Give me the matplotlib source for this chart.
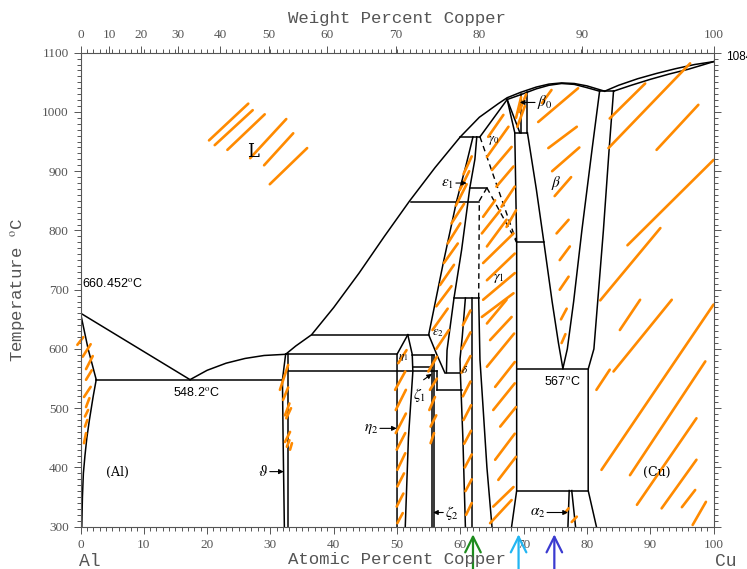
import numpy as np
import matplotlib.pyplot as plt
from matplotlib.transforms import blended_transform_factory

plt.rcParams['mathtext.fontset'] = 'stix'

# phase boundaries: (atomic % Cu, temperature in C)
liq_al = [(0, 660.452), (17.3, 548.2)]
liq_theta = [(17.3, 548.2), (20, 564), (23, 576), (26, 584), (29, 589), (32.4, 591)]
liq_main = [(32.4, 591), (34, 605), (36.5, 624), (40, 670), (44, 728), (48, 790), (52, 850),
            (56, 906), (60, 958), (63, 991), (66, 1014), (67.4, 1024), (69.5, 1033), (72, 1042),
            (74, 1047), (76, 1049), (78, 1048), (80, 1044), (82.8, 1035)]
liq_cu = [(82.8, 1035), (85, 1045), (88, 1056), (91, 1065), (94, 1073), (97, 1080), (100, 1084.87)]
sol_cu = [(84.2, 1035), (87, 1045), (90, 1055), (93, 1064), (96, 1072), (98.5, 1080), (100, 1084.87)]
sol_beta = [(67.4, 1021), (69.5, 1029), (72, 1039), (74, 1045), (76, 1048), (78, 1046.5),
            (80, 1041), (82.0, 1035)]
h1035 = [(82.0, 1035), (84.2, 1035)]
al_sol = [(0, 660.452), (1.2, 600), (2.48, 548.2)]
al_solvus = [(2.48, 548.2), (2.0, 520), (1.4, 480), (1.0, 450), (0.7, 420), (0.45, 390),
             (0.3, 350), (0.2, 300)]
h548 = [(2.48, 548.2), (31.9, 548.2)]
theta_left = [(32.4, 591), (31.9, 548.2), (32.0, 450), (32.2, 300)]
theta_right = [(32.8, 591), (32.8, 300)]
h591 = [(32.4, 591), (50.0, 591)]
h562 = [(32.8, 562), (56.3, 562)]
h624 = [(36.5, 624), (55.0, 624)]
eta_left = [(51.7, 624), (50.0, 591), (50.0, 300)]
eta_right = [(51.7, 624), (52.4, 591), (52.5, 562), (51.8, 450), (51.3, 300)]
zeta_top = [(52.4, 590), (55.85, 590)]
zeta_mid = [(52.5, 569), (55.45, 569)]
zeta_left = [(55.45, 590), (55.45, 300)]
zeta_right = [(55.85, 590), (55.85, 300)]
eps_left = [(57.5, 561), (56.3, 590), (55.0, 624), (57.3, 745), (59.4, 849), (60.9, 910), (62.0, 958)]
eps_right = [(57.8, 560), (57.9, 598), (59.0, 686), (60.2, 767), (61.5, 872), (62.3, 920), (62.6, 958)]
h958 = [(60.0, 958), (63.1, 958)]
h872 = [(61.5, 872), (64.2, 872)]
h848 = [(52.2, 848), (62.9, 848)]
h686 = [(59.0, 686), (62.9, 686)]
h560 = [(57.5, 560), (60.0, 560)]
h530 = [(56.3, 530), (60.2, 530)]
box_left = [(56.3, 562), (56.3, 530)]
delta_left = [(60.8, 686), (60.3, 620), (59.95, 583), (60.0, 560), (60.4, 450), (60.8, 300)]
delta_right = [(61.9, 686), (61.9, 300)]
gamma1_left = [(62.9, 686), (63.1, 582), (63.6, 500), (64.2, 400), (65.0, 300)]
gamma0_sol = [(63.1, 958), (67.4, 1021)]
gamma_right = [(67.4, 1021), (68.6, 965), (68.9, 780), (68.9, 361), (68.1, 300)]
beta0_leg = [(67.4, 1021), (69.4, 965)]
beta0_v1 = [(69.6, 1030), (69.6, 965)]
beta0_v2 = [(70.6, 1034), (70.6, 965)]
h965 = [(68.6, 965), (70.6, 965)]
beta_left = [(70.6, 965), (72.0, 870), (73.2, 780), (74.5, 680), (75.5, 610), (76.2, 567)]
beta_right = [(82.0, 1035), (80.8, 936), (79.2, 800), (77.9, 680), (76.9, 600), (76.2, 567)]
h780 = [(68.9, 780), (73.2, 780)]
cu_left = [(84.2, 1035), (83.5, 936), (82.6, 800), (81.7, 680), (81.1, 600), (80.2, 566),
           (80.2, 361), (81.5, 300)]
h567 = [(68.9, 567), (80.2, 567)]
h361 = [(68.9, 361), (80.2, 361)]
alpha2_left = [(77.2, 361), (77.0, 300)]
alpha2_right = [(77.6, 361), (78.2, 300)]

solid_lines = [liq_al, liq_theta, liq_main, liq_cu, sol_cu, sol_beta, h1035, al_sol, al_solvus,
               h548, theta_left, theta_right, h591, h562, h624, eta_left, eta_right, zeta_top,
               zeta_mid, zeta_left, zeta_right, eps_left, eps_right, h958, h872, h848, h686,
               h560, h530, box_left, delta_left, delta_right, gamma1_left, gamma0_sol,
               gamma_right, beta0_leg, beta0_v1, beta0_v2, h965, beta_left, beta_right, h780,
               cu_left, h567, h361, alpha2_left, alpha2_right]

dash_a = [(64.2, 872), (63.0, 850), (62.9, 686)]
dash_b = [(63.1, 958), (68.9, 780)]
dash_c = [(64.2, 872), (68.9, 780)]
dashed_lines = [dash_a, dash_b, dash_c]

# hand drawn orange marks: (x1, T1, x2, T2)
orange_strokes = [
    # L
    (20.3, 952, 26.5, 1014), (21.2, 944, 27.2, 1003), (23.2, 936, 29.1, 996),
    (26.8, 922, 32.5, 988), (29.0, 910, 33.6, 964), (29.9, 878, 35.8, 939),
    # (Al)
    (-0.5, 607, 0.44, 620), (0.35, 587, 1.6, 608), (0.87, 566, 1.93, 588),
    (0.87, 548, 1.77, 564), (0.55, 519, 1.6, 536), (0.87, 502, 1.4, 517),
    (0.7, 486, 1.2, 497), (0.7, 469, 1.07, 480), (0.55, 441, 0.87, 458),
    # theta
    (31.5, 531, 32.8, 573), (32.0, 514, 32.8, 535), (32.3, 488, 33.0, 508),
    (32.5, 483, 33.25, 500), (32.6, 435, 33.0, 446), (32.3, 443, 33.1, 460),
    (33.1, 430, 33.4, 441),
    # eta
    (50.2, 576, 51.5, 598), (49.7, 531, 51.3, 562), (49.8, 497, 51.4, 531),
    (49.8, 458, 51.4, 491), (49.95, 430, 51.3, 458), (50.05, 396, 51.3, 424),
    (50.05, 368, 51.1, 390), (49.95, 334, 51.0, 356), (50.05, 306, 50.9, 323),
    # zeta
    (54.95, 562, 56.3, 587), (55.2, 531, 56.3, 550), (55.1, 497, 56.0, 519),
    (55.3, 469, 56.2, 488), (55.3, 441, 55.85, 458),
    # epsilon
    (56.2, 600, 58.2, 632), (55.6, 632, 58.0, 668), (56.2, 672, 58.6, 706),
    (56.8, 708, 59.0, 742), (57.4, 745, 59.6, 778), (58.0, 778, 60.0, 812),
    (58.6, 812, 60.6, 845), (59.3, 842, 61.0, 878), (59.9, 868, 61.4, 900),
    (60.5, 895, 61.8, 925),
    # delta
    (60.4, 640, 61.6, 665), (60.2, 600, 61.6, 628), (60.2, 560, 61.6, 588),
    (60.4, 520, 61.6, 545), (60.5, 480, 61.7, 505), (60.6, 440, 61.7, 462),
    (60.7, 400, 61.8, 422), (60.8, 360, 61.8, 380), (60.9, 320, 61.8, 340),
    # gamma0
    (64.4, 958, 66.8, 995), (64.2, 924, 67.6, 975), (65.0, 902, 68.1, 941),
    (65.7, 874, 68.4, 908), (66.5, 840, 68.6, 874), (67.3, 806, 68.8, 834),
    # gamma1
    (63.6, 823, 65.5, 851), (63.4, 795, 66.3, 834), (64.2, 773, 67.3, 818),
    (63.6, 745, 68.4, 795), (64.2, 716, 68.6, 761), (63.6, 683, 68.6, 728),
    (63.4, 654, 68.4, 694), (64.2, 643, 67.3, 683), (64.7, 615, 68.1, 654),
    (64.2, 570, 68.5, 626), (65.5, 536, 68.6, 578), (65.2, 497, 68.6, 542),
    (66.3, 469, 68.8, 502), (65.5, 413, 68.6, 457), (66.0, 379, 68.8, 418),
    (65.2, 334, 68.4, 367), (64.7, 306, 68.1, 345),
    # beta0
    (68.8, 990, 69.6, 1025), (69.0, 975, 70.2, 1010), (69.3, 1000, 70.4, 1030),
    # beta
    (72.3, 983, 78.6, 1040), (72.9, 1015, 74.4, 1037), (73.9, 939, 78.4, 975),
    (74.5, 900, 78.8, 940), (74.9, 858, 77.5, 890), (75.2, 795, 77.1, 818),
    (75.7, 750, 77.3, 773), (75.7, 700, 77.1, 722), (75.9, 650, 76.8, 668),
    (76.0, 610, 76.6, 625),
    # alpha2
    (76.5, 323, 77.1, 331), (77.6, 308, 78.4, 317),
    # (Cu)
    (83.6, 989, 89.2, 1048), (83.4, 939, 96.3, 1082), (91.0, 936, 97.6, 1012),
    (86.4, 775, 100.0, 919), (82.1, 682, 91.6, 804),
    (85.2, 632, 88.4, 683), (81.5, 531, 83.6, 565), (84.2, 562, 93.4, 683),
    (82.3, 396, 100.0, 675), (86.8, 387, 98.7, 579), (87.9, 337, 97.3, 483),
    (91.8, 331, 97.3, 413), (95.0, 333, 97.1, 362), (96.7, 303, 98.8, 342),
]

wt_ticks = [0, 10, 20, 30, 40, 50, 60, 70, 80, 90, 100]
marker_arrows = [(62.0, '#1e8c1e'), (69.2, '#22b5f2'), (74.85, '#3b3bd0')]


def wt_to_at(w):
    a = w / 63.546
    b = (100 - w) / 26.982
    return 100 * a / (a + b)


fig = plt.figure(figsize=(7.47, 5.69), dpi=100)
ax = fig.add_axes([0.1078, 0.0743, 0.8474, 0.8331])
ax.set_xlim(0, 100)
ax.set_ylim(300, 1100)

for pts in solid_lines:
    xs, ys = zip(*pts)
    ax.plot(xs, ys, color='k', lw=1.1)
for pts in dashed_lines:
    xs, ys = zip(*pts)
    ax.plot(xs, ys, color='k', lw=1.0, ls=(0, (4, 3)))
for x1, t1, x2, t2 in orange_strokes:
    ax.plot([x1, x2], [t1, t2], color='#ff8a00', lw=1.9, solid_capstyle='round', clip_on=False)

grey = '#555555'
tick_font = dict(family='Liberation Serif', size=9.5)
for s in ax.spines.values():
    s.set_color(grey)
    s.set_linewidth(0.8)
ax.set_xticks(range(0, 101, 10))
ax.set_xticks(range(0, 101), minor=True)
ax.set_yticks(range(300, 1101, 100))
ax.set_yticks(range(300, 1101, 10), minor=True)
ax.tick_params(which='both', direction='out', color=grey, labelcolor=grey, right=True, width=0.7)
ax.tick_params(which='major', length=5)
ax.tick_params(which='minor', length=3)
for lab in ax.get_xticklabels() + ax.get_yticklabels():
    lab.set_fontfamily('Liberation Serif')
    lab.set_fontsize(9.5)

ax2 = ax.twiny()
ax2.set_xlim(0, 100)
ax2.set_xticks([wt_to_at(w) for w in wt_ticks])
ax2.set_xticklabels([str(w) for w in wt_ticks], **tick_font, color=grey)
ax2.set_xticks(range(0, 101), minor=True)
ax2.tick_params(which='both', direction='out', color=grey, width=0.7)
ax2.tick_params(which='major', length=5)
ax2.tick_params(which='minor', length=3)
for s in ax2.spines.values():
    s.set_visible(False)

mono = 'Liberation Mono'
fig.text(0.532, 0.968, 'Weight Percent Copper', family=mono, size=12.5, color=grey, ha='center', va='center')
fig.text(0.532, 0.016, 'Atomic Percent Copper', family=mono, size=12.5, color=grey, ha='center', va='center')
fig.text(0.024, 0.49, 'Temperature $^{\\rm o}$C', family=mono, size=12.5, color=grey,
         ha='center', va='center', rotation=90)
fig.text(0.12, 0.014, 'Al', family=mono, size=13, color=grey, ha='center', va='center')
fig.text(0.972, 0.014, 'Cu', family=mono, size=13, color=grey, ha='center', va='center')

sans = 'Liberation Sans'
ax.text(0.2, 711, '660.452$^{\\rm o}$C', family=sans, size=9, ha='left', va='center')
ax.text(18.3, 527, '548.2$^{\\rm o}$C', family=sans, size=9, ha='center', va='center')
ax.text(76.1, 545, '567$^{\\rm o}$C', family=sans, size=9, ha='center', va='center')
ax.text(101.9, 1092, '1084', family=sans, size=8.5, ha='left', va='center', clip_on=False)
ax.text(27.3, 932, 'L', family='DejaVu Serif', size=13, ha='center', va='center')
ax.text(4.1, 391, '(Al)', family='DejaVu Serif', size=9, ha='left', va='center')
ax.text(91.0, 391, '(Cu)', family='DejaVu Serif', size=9, ha='center', va='center')

arrow = dict(arrowstyle='-|>', color='k', lw=0.8, mutation_scale=7, shrinkA=0, shrinkB=0)
greek = [
    (r'$\vartheta$', (32.1, 393), (29.9, 393), 'right'),
    (r'$\eta_2$', (49.95, 466), (47.3, 466), 'right'),
    (r'$\zeta_2$', (55.7, 324), (57.3, 324), 'left'),
    (r'$\varepsilon_1$', (61.0, 880), (59.3, 880), 'right'),
    (r'$\beta_0$', (69.4, 1016), (71.8, 1016), 'left'),
    (r'$\alpha_2$', (77.0, 324), (73.7, 324), 'right'),
]
for txt, tip, start, ha in greek:
    ax.annotate('', xy=tip, xytext=start, arrowprops=arrow)
    ax.text(start[0] + (-0.3 if ha == 'right' else 0.3), start[1], txt, size=11, ha=ha, va='center')
ax.annotate('', xy=(55.5, 558), xytext=(54.2, 548), arrowprops=arrow)
ax.text(53.6, 522, r'$\zeta_1$', size=11, ha='center', va='center')
ax.text(51.0, 585, r'$\eta_1$', size=8, ha='center', va='center')
ax.text(56.4, 628, r'$\varepsilon_2$', size=9, ha='center', va='center')
ax.text(60.6, 565, r'$\delta$', size=8, ha='center', va='center')
ax.text(65.2, 952, r'$\gamma_0$', size=9, ha='center', va='center')
ax.text(66.0, 720, r'$\gamma_1$', size=10, ha='center', va='center')
ax.text(75.2, 880, r'$\beta$', size=11, ha='center', va='center')

trans = blended_transform_factory(ax.transData, ax.transAxes)
for xpos, col in marker_arrows:
    ax.annotate('', xy=(xpos, -0.016), xytext=(xpos, -0.092), xycoords=trans, textcoords=trans,
                arrowprops=dict(arrowstyle='->', color=col, lw=1.6, mutation_scale=28,
                                shrinkA=0, shrinkB=0), annotation_clip=False)

fig.savefig('out.png', dpi=100)
